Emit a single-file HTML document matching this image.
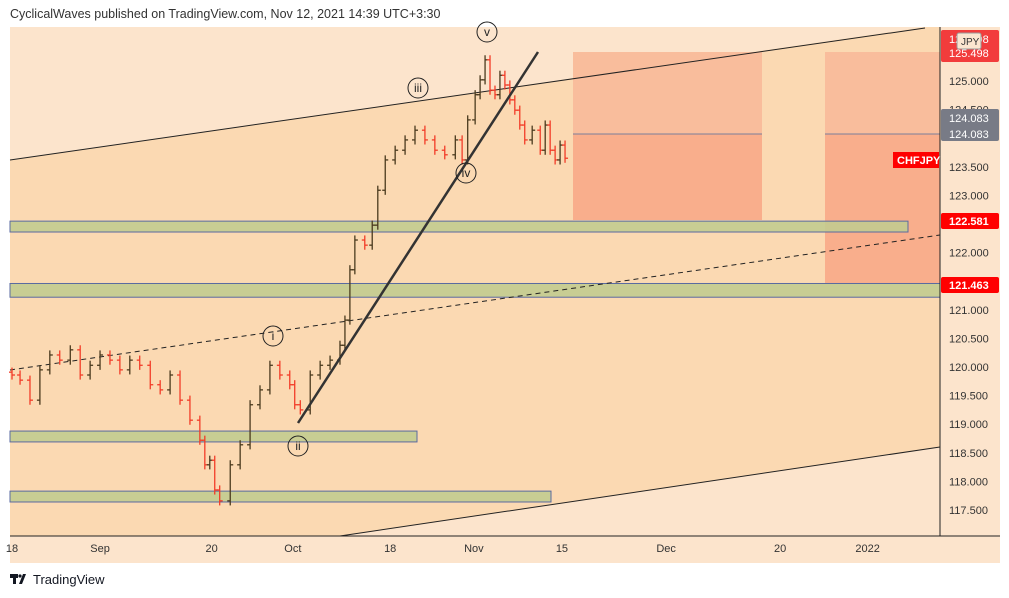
<!DOCTYPE html>
<html><head><meta charset="utf-8"><style>
body{margin:0;width:1009px;height:598px;background:#fff;font-family:"Liberation Sans",sans-serif;overflow:hidden}
svg{position:absolute;left:0;top:0}
</style></head><body>
<svg width="1009" height="598">
<text x="10" y="18" font-size="12.5" fill="#333">CyclicalWaves published on TradingView.com, Nov 12, 2021 14:39 UTC+3:30</text>
<rect x="10" y="27" width="990" height="536" fill="#fce4cc"/>
<polygon points="10,160 925,27 940,27 940,447 340,536 10,536" fill="#fbd9b2"/>
<g id="zones"></g>
<line x1="10" y1="160" x2="925" y2="28" stroke="#222" stroke-width="1"/>
<line x1="340" y1="536" x2="940" y2="447" stroke="#222" stroke-width="1"/>
<line x1="10" y1="370" x2="940" y2="235" stroke="#222" stroke-width="1" stroke-dasharray="5,4"/>
<g id="bars"></g>
<line x1="298" y1="423" x2="538" y2="52" stroke="#333" stroke-width="2.5"/>
<g font-size="12" text-anchor="middle" fill="#222">
<circle cx="487" cy="32" r="10" fill="none" stroke="#222"/><text x="487" y="36">v</text>
<circle cx="418" cy="88" r="10" fill="none" stroke="#222"/><text x="418" y="92">iii</text>
<circle cx="466" cy="173" r="10" fill="none" stroke="#222"/><text x="466" y="177">iv</text>
<circle cx="273" cy="336" r="10" fill="none" stroke="#222"/><text x="273" y="340">i</text>
<circle cx="298" cy="446" r="10" fill="none" stroke="#222"/><text x="298" y="450">ii</text>
</g>
<rect x="940" y="27" width="60" height="536" fill="#fce4cc"/>
<line x1="940" y1="27" x2="940" y2="536" stroke="#222"/>
<line x1="10" y1="536" x2="1000" y2="536" stroke="#222"/>
<g id="yticks" font-size="11" fill="#333"></g>
<g id="xticks" font-size="11" fill="#333"></g>
<g font-size="11" fill="#fff">
<rect x="941" y="30" width="58" height="32" rx="2" fill="#f23c3c"/><text x="949" y="43">125.498</text><text x="949" y="57">125.498</text>
<rect x="957" y="33" width="24" height="16" rx="2" fill="#fbe6d0" stroke="#999"/><text x="961" y="45" fill="#333" font-size="10">JPY</text>
<rect x="941" y="109" width="58" height="32" rx="2" fill="#787b86"/><text x="949" y="122">124.083</text><text x="949" y="138">124.083</text>
<rect x="941" y="213" width="58" height="16" rx="2" fill="#f00"/><text x="949" y="225" font-weight="bold">122.581</text>
<rect x="941" y="277" width="58" height="16" rx="2" fill="#f00"/><text x="949" y="289" font-weight="bold">121.463</text>
<rect x="893" y="152" width="46" height="16" fill="#f00"/><text x="897" y="164" font-weight="bold">CHFJPY</text>
</g>
<g>
<rect x="10" y="574" width="8" height="4" fill="#131722"/><rect x="13" y="574" width="3" height="10" fill="#131722"/>
<polygon points="19,584 23,574 26,574 22,584" fill="#131722"/><circle cx="20" cy="576" r="1.6" fill="#131722"/>
<text x="33" y="584" font-size="13" fill="#131722">TradingView</text>
</g>
</svg>
<script>
const days=[0,1.3,2.9,4.5,6.1,7.7,9.4,11.0,12.6,14.2,15.8,17.4,19.0,20.6,22.3,23.9,25.5,27.1,28.7,30.3,31.1,31.9,32.7,33.5,35.2,36.8,38.4,40.0,41.6,43.2,44.8,45.6,46.5,48.1,49.7,51.3,52.9,53.7,54.5,55.3,56.9,58.1,59.0,60.2,61.8,63.4,65.0,66.6,68.2,69.8,71.5,72.6,73.5,74.7,75.5,76.3,77.1,77.9,78.7,79.5,80.3,81.1,81.9,82.7,83.9,85.2,86.0,86.8,87.6,88.4,89.2];
const closes=[119.86,119.77,119.42,119.95,120.21,120.12,120.30,119.86,120.03,120.21,120.12,119.95,120.12,120.03,119.69,119.60,119.86,119.42,119.07,118.72,118.29,118.37,117.85,117.66,118.29,118.64,119.34,119.60,120.03,119.86,119.69,119.34,119.25,119.86,120.03,120.12,120.38,120.82,121.70,122.22,122.13,122.48,123.09,123.62,123.79,123.97,124.14,123.97,123.79,123.71,123.97,123.62,124.32,124.76,125.02,125.37,124.84,124.76,125.10,124.93,124.67,124.49,124.23,123.97,124.14,123.79,124.23,123.79,123.62,123.88,123.65];
const yTicks=[125.0,124.5,123.5,123.0,122.0,121.0,120.5,120.0,119.5,119.0,118.5,118.0,117.5];
const xTickLabels=["18","Sep","20","Oct","18","Nov","15","Dec","20","2022"];
const xTickPos=[0,14.2,32.2,45.3,61,74.5,88.7,105.5,123.9,138];
const zones=[[122.55,122.36,908],[121.46,121.22,940],[118.88,118.69,417],[117.83,117.64,551]];
const NS="http://www.w3.org/2000/svg";
const y=p=>81+(125-p)*57.2, x=d=>12+d*6.2;
function mk(t,a,parent){const e=document.createElementNS(NS,t);for(const k in a)e.setAttribute(k,a[k]);parent.appendChild(e);return e;}
const zg=document.getElementById('zones');
const boxes=[[573,762,220],[825,940,283]];
boxes.forEach(b=>{
 const r1=mk('rect',{x:b[0],y:52,width:b[1]-b[0],height:82,fill:'#f9bd9c'},zg);
 
 
 const r2=mk('rect',{x:b[0],y:134,width:b[1]-b[0],height:b[2]-134,fill:'#f9ae8c'},zg);
 
 
 const l=mk('line',{x1:b[0],y1:134,x2:b[1],y2:134,stroke:'#7a7f9a'},zg);
 
 
});
zones.forEach(z=>{
 const r=mk('rect',{x:10,y:y(z[0]),width:z[2]-10,height:y(z[1])-y(z[0]),fill:'#c2cb8f',stroke:'#5a6aa0','fill-opacity':0.9},zg);
 
 
});
const bg=document.getElementById('bars');
closes.forEach((c,i)=>{
 const o=i?closes[i-1]:c+0.05, cx=x(days[i]);
 const col=c<o?'#f23c28':'#4a3a1e';
 const hi=Math.max(o,c)+0.08, lo=Math.min(o,c)-0.08;
 const g=mk('g',{stroke:col,'stroke-width':1.3},bg);
 
 
 mk('line',{x1:cx,y1:y(hi),x2:cx,y2:y(lo)},g);
 mk('line',{x1:cx-3,y1:y(o),x2:cx,y2:y(o)},g);
 mk('line',{x1:cx,y1:y(c),x2:cx+3,y2:y(c)},g);
});
const yg=document.getElementById('yticks');
yTicks.forEach(p=>{const t=mk('text',{x:949,y:y(p)+4},yg);t.textContent=p.toFixed(3);
 
 });
const xg=document.getElementById('xticks');
xTickLabels.forEach((s,i)=>{const t=mk('text',{x:x(xTickPos[i]),y:552,'text-anchor':'middle'},xg);t.textContent=s;
 
 });
</script>
</body></html>
